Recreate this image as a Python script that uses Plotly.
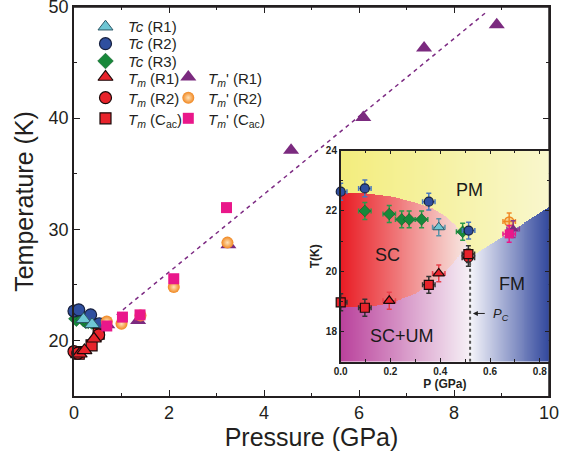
import numpy as np
import plotly.graph_objects as go

FONT = "Liberation Sans, Arial, Helvetica, sans-serif"
INK = "#231f20"

# ---------------- main panel data: pressure (GPa), temperature (K) ----------------
tc_r1_p = [0.20, 0.38]
tc_r1_t = [21.9, 21.45]
tc_r2_p = [0.0, 0.10, 0.35, 0.53]
tc_r2_t = [22.65, 22.75, 22.3, 21.5]
tc_r3_p = [0.05, 0.20, 0.25, 0.30, 0.37, 0.50]
tc_r3_t = [21.95, 21.9, 21.75, 21.75, 21.7, 21.3]
tm_r1_p = [0.12, 0.22, 0.42]
tm_r1_t = [18.8, 19.1, 20.15]
tm_r2_p = [0.0, 0.08, 0.52]
tm_r2_t = [19.0, 18.85, 20.5]
tm_cac_p = [0.05, 0.10, 0.37, 0.52]
tm_cac_t = [18.95, 18.8, 19.55, 20.6]
tmp_r1_p = [0.70, 1.35, 3.25, 4.57, 6.09, 7.37, 8.90]
tmp_r1_t = [21.4, 21.8, 28.6, 37.1, 40.05, 46.3, 48.4]
tmp_r2_p = [0.69, 1.00, 1.40, 2.10, 3.23]
tmp_r2_t = [21.7, 21.5, 22.25, 24.8, 28.8]
tmp_cac_p = [0.69, 1.02, 1.39, 2.10, 3.21]
tmp_cac_t = [21.3, 22.1, 22.3, 25.55, 31.95]
fit_p = [0.90, 8.67]
fit_t = [22.3, 49.5]

# ---------------- inset data ----------------
in_tc_r1_p = [0.394]
in_tc_r1_t = [21.46]
in_tc_r2_p = [0.0, 0.097, 0.354, 0.514]
in_tc_r2_t = [22.64, 22.75, 22.31, 21.35]
in_tc_r3_p = [0.097, 0.195, 0.245, 0.275, 0.325, 0.49]
in_tc_r3_t = [22.0, 21.9, 21.72, 21.72, 21.72, 21.31]
in_tm_r1_p = [0.195, 0.394]
in_tm_r1_t = [19.02, 19.93]
in_tm_r2_p = [0.513]
in_tm_r2_t = [20.45]
in_tm_cac_p = [0.0, 0.097, 0.354, 0.513]
in_tm_cac_t = [18.97, 18.79, 19.55, 20.57]
in_tmp_r1_p = [0.693]
in_tmp_r1_t = [21.4]
in_tmp_r2_p = [0.677]
in_tmp_r2_t = [21.65]
in_tmp_cac_p = [0.677]
in_tmp_cac_t = [21.24]
ERR_P = 0.025
ERR_T = 0.28

# phase boundaries of the inset diagram
sc_up_p = [0.0, 0.10, 0.20, 0.30, 0.37, 0.42, 0.46, 0.49, 0.505]
sc_up_t = [22.6, 22.6, 22.5, 22.3, 22.1, 21.85, 21.55, 21.2, 20.95]
sc_lo_p = [0.0, 0.10, 0.20, 0.30, 0.40, 0.45, 0.48, 0.505]
sc_lo_t = [18.8, 18.8, 18.95, 19.25, 19.8, 20.25, 20.6, 20.95]
fm_line_p = [0.52, 0.837]
fm_line_t = [20.5, 22.15]
PC_GPA = 0.52

# tick values
x_major = [0, 2, 4, 6, 8, 10]
x_minor = [1, 3, 5, 7, 9]
y_major = [20, 30, 40, 50]
y_minor = [25, 35, 45]

# labels
legend_labels = [
    "<i>Tc</i> (R1)", "<i>Tc</i> (R2)", "<i>Tc</i> (R3)",
    "<i>T<sub>m</sub></i> (R1)", "<i>T<sub>m</sub></i> (R2)", "<i>T<sub>m</sub></i> (C<sub>ac</sub>)",
    "<i>T<sub>m</sub></i>' (R1)", "<i>T<sub>m</sub></i>' (R2)", "<i>T<sub>m</sub></i>' (C<sub>ac</sub>)",
]

# ---------------- styles ----------------
S = {
    "tc_r1": dict(symbol="triangle-up", color="#6ec6d4", line=dict(color="#2d5866", width=1)),
    "tc_r2": dict(symbol="circle", color="#2f4f9f", line=dict(color="#17203f", width=1.2)),
    "tc_r3": dict(symbol="diamond", color="#17883a", line=dict(color="#0e5a26", width=0.6)),
    "tm_r1": dict(symbol="triangle-up", color="#e8232b", line=dict(color="#1a0a0a", width=1.2)),
    "tm_r2": dict(symbol="circle", color="#e8232b", line=dict(color="#1a0a0a", width=1.2)),
    "tm_cac": dict(symbol="square", color="#e8232b", line=dict(color="#1a0a0a", width=1.2)),
    "tmp_r1": dict(symbol="triangle-up", color="#7b2a7f", line=dict(width=0)),
    "tmp_r2": dict(symbol="circle", color="#f0861f", line=dict(width=0),
                   gradient=dict(type="radial", color="#ffe2b8")),
    "tmp_cac": dict(symbol="square", color="#e9178a", line=dict(width=0)),
}
SIZE_MAIN = {"tc_r1": 13, "tc_r2": 12, "tc_r3": 12, "tm_r1": 13, "tm_r2": 12, "tm_cac": 11,
             "tmp_r1": 14, "tmp_r2": 12, "tmp_cac": 11}
ERRC = {"tc_r1": "#5b93a8", "tc_r2": "#4a78bd", "tc_r3": "#2a9a4a", "tm_r1": "#e8404a",
        "tm_r2": "#333333", "tm_cac": "#333333", "tmp_r1": "#8a3a90", "tmp_r2": "#f08a2a",
        "tmp_cac": "#e9178a"}

# main axes geometry (pixels) used to place the hand-drawn legend
X_RANGE, Y_RANGE = [0, 10], [15, 50]
PLOT_L, PLOT_R, PLOT_T, PLOT_B = 74, 549, 7, 396


def px_to_p(px):
    return X_RANGE[0] + (px - PLOT_L) / (PLOT_R - PLOT_L) * (X_RANGE[1] - X_RANGE[0])


def py_to_t(py):
    return Y_RANGE[1] - (py - PLOT_T) / (PLOT_B - PLOT_T) * (Y_RANGE[1] - Y_RANGE[0])


fig = go.Figure()

# ---------------- inset background (phase diagram) ----------------
P_MAX_IN, T_MIN_IN, T_MAX_IN = 0.837, 17.0, 24.0
nx, ny = 210, 212
pg = (np.arange(nx) + 0.5) / nx * P_MAX_IN
tg = T_MIN_IN + (np.arange(ny) + 0.5) / ny * (T_MAX_IN - T_MIN_IN)
PP, TT = np.meshgrid(pg, tg)
pm_p = sc_up_p + fm_line_p
pm_t = sc_up_t + fm_line_t
B = np.interp(PP, pm_p, pm_t)
U = np.interp(PP, sc_up_p, sc_up_t)
L = np.interp(PP, sc_lo_p, sc_lo_t)
pm = TT >= B
left = PP < PC_GPA
sc = left & ~pm & (TT >= L) & (TT <= U) & (PP <= sc_up_p[-1])
um = left & ~pm & ~sc
fmr = ~left & ~pm


def lerp(c0, c1, t):
    c0 = np.array(c0, float)
    c1 = np.array(c1, float)
    return c0 + (c1 - c0) * np.clip(t, 0, 1)[..., None]


img = np.zeros(PP.shape + (3,))
img[pm] = lerp([243, 237, 125], [249, 247, 205], PP / P_MAX_IN)[pm]
img[sc] = lerp([233, 28, 36], [247, 230, 224], PP / 0.5)[sc]
img[um] = lerp([186, 66, 156], [246, 241, 246], PP / PC_GPA)[um]
img[fmr] = lerp([244, 244, 250], [50, 72, 157], (PP - PC_GPA) / (P_MAX_IN - PC_GPA))[fmr]
img = np.round(img).astype(int)

fig.add_trace(go.Image(z=img.tolist(), colormodel="rgb", x0=pg[0], dx=P_MAX_IN / nx,
                       y0=tg[0], dy=(T_MAX_IN - T_MIN_IN) / ny, xaxis="x2", yaxis="y2",
                       hoverinfo="skip"))

# ---------------- main frame (top and right edges) ----------------
fig.add_trace(go.Scatter(x=[X_RANGE[0], X_RANGE[1], X_RANGE[1]], y=[Y_RANGE[1], Y_RANGE[1], Y_RANGE[0]],
                         mode="lines", line=dict(color=INK, width=1.5), cliponaxis=False,
                         hoverinfo="skip"))

# ---------------- main traces ----------------
main_order = [
    ("tc_r3", tc_r3_p, tc_r3_t), ("tc_r2", tc_r2_p, tc_r2_t), ("tc_r1", tc_r1_p, tc_r1_t),
    ("tm_cac", tm_cac_p, tm_cac_t), ("tm_r2", tm_r2_p, tm_r2_t), ("tm_r1", tm_r1_p, tm_r1_t),
    ("tmp_r1", tmp_r1_p, tmp_r1_t), ("tmp_r2", tmp_r2_p, tmp_r2_t), ("tmp_cac", tmp_cac_p, tmp_cac_t),
]
fig.add_trace(go.Scatter(x=fit_p, y=fit_t, mode="lines",
                         line=dict(color="#7d2b83", width=1.5, dash="4px,4px"),
                         hoverinfo="skip", cliponaxis=False))
for key, px_, pt_ in main_order:
    fig.add_trace(go.Scatter(x=px_, y=pt_, mode="markers", cliponaxis=False,
                             marker=dict(size=SIZE_MAIN[key], **S[key])))

# ---------------- manual legend ----------------
LEG_ROWS = [26.7, 43.7, 61.0, 77.0, 97.7, 118.3]
COL1_M, COL1_T = 105.5, 126
COL2_M, COL2_T = 188.3, 206
leg_keys_1 = ["tc_r1", "tc_r2", "tc_r3", "tm_r1", "tm_r2", "tm_cac"]
leg_keys_2 = ["tmp_r1", "tmp_r2", "tmp_cac"]
leg_items = [(k, COL1_M, COL1_T, LEG_ROWS[i], legend_labels[i]) for i, k in enumerate(leg_keys_1)]
leg_items += [(k, COL2_M, COL2_T, LEG_ROWS[3 + j], legend_labels[6 + j]) for j, k in enumerate(leg_keys_2)]
for key, mx, tx, ry, lab in leg_items:
    fig.add_trace(go.Scatter(x=[px_to_p(mx)], y=[py_to_t(ry)], mode="markers", cliponaxis=False,
                             marker=dict(size=SIZE_MAIN[key], **S[key]), hoverinfo="skip"))
    fig.add_annotation(x=px_to_p(tx), y=py_to_t(ry + (2 if "sub" in lab else 0)),
                       text=lab, showarrow=False, xanchor="left", yanchor="middle",
                       font=dict(size=15, color=INK))

# ---------------- inset traces ----------------
inset_order = [
    ("tc_r3", in_tc_r3_p, in_tc_r3_t), ("tc_r2", in_tc_r2_p, in_tc_r2_t), ("tc_r1", in_tc_r1_p, in_tc_r1_t),
    ("tm_r2", in_tm_r2_p, in_tm_r2_t), ("tm_cac", in_tm_cac_p, in_tm_cac_t), ("tm_r1", in_tm_r1_p, in_tm_r1_t),
    ("tmp_r2", in_tmp_r2_p, in_tmp_r2_t), ("tmp_r1", in_tmp_r1_p, in_tmp_r1_t), ("tmp_cac", in_tmp_cac_p, in_tmp_cac_t),
]
for key, px_, pt_ in inset_order:
    mk = dict(S[key])
    if key == "tmp_r2":
        mk = dict(symbol="circle", color="rgba(240,134,31,0.35)", line=dict(color="#f0861f", width=1.5))
    fig.add_trace(go.Scatter(
        x=px_, y=pt_, mode="markers", xaxis="x2", yaxis="y2", cliponaxis=False,
        marker=dict(size=9 if mk["symbol"] != "triangle-up" else 10, **mk),
        error_x=dict(type="constant", value=ERR_P, color=ERRC[key], thickness=1.5, width=2.5),
        error_y=dict(type="constant", value=ERR_T, color=ERRC[key], thickness=1.5, width=2.5)))

# Pc dotted line
fig.add_shape(type="line", xref="x2", yref="y2", x0=PC_GPA, x1=PC_GPA, y0=T_MIN_IN, y1=20.35,
              line=dict(color="#555555", width=2, dash="dot"))

# ---------------- inset region labels ----------------
for txt, xx, yy in [("PM", 0.517, 22.7), ("SC", 0.187, 20.54), ("FM", 0.69, 19.58), ("SC+UM", 0.248, 17.85)]:
    fig.add_annotation(x=xx, y=yy, xref="x2", yref="y2", text=txt, showarrow=False,
                       font=dict(size=18, color="#1a1a1a"))
fig.add_annotation(x=0.531, y=18.6, ax=0.585, ay=18.6, xref="x2", yref="y2", axref="x2", ayref="y2",
                   text="", showarrow=True, arrowhead=2, arrowsize=1, arrowwidth=1, arrowcolor="#222")
fig.add_annotation(x=0.605, y=18.55, xref="x2", yref="y2", text="<i>P<sub>C</sub></i>", showarrow=False,
                   xanchor="left", yanchor="middle", font=dict(size=13, color="#222"))

axis_common = dict(showline=True, linecolor=INK, mirror="ticks", showgrid=False, zeroline=False,
                   ticks="inside", tickcolor=INK, automargin=False, ticklabeloverflow="allow")
tick_only = dict(showline=False, showgrid=False, zeroline=False, ticks="inside", tickcolor=INK,
                 showticklabels=False, automargin=False)

fig.update_layout(
    width=577, height=453, margin=dict(l=74, r=28, t=7, b=57, autoexpand=False),
    paper_bgcolor="white", plot_bgcolor="rgba(0,0,0,0)", showlegend=False,
    font=dict(family=FONT, color=INK),
    xaxis=dict(domain=[0, 1], anchor="y", range=X_RANGE, tickvals=x_major,
               ticklen=6, tickwidth=1.3, linewidth=1.5,
               minor=dict(tickvals=x_minor, ticks="inside", ticklen=3.5, tickwidth=1.3, tickcolor=INK),
               tickfont=dict(size=18), title=dict(text="Pressure (GPa)", font=dict(size=25), standoff=2),
               **axis_common),
    yaxis=dict(domain=[0, 1], anchor="x", range=Y_RANGE, tickvals=y_major,
               ticklen=6, tickwidth=1.3, linewidth=1.5,
               minor=dict(tickvals=y_minor, ticks="inside", ticklen=3.5, tickwidth=1.3, tickcolor=INK),
               tickfont=dict(size=18), title=dict(text="Temperature (K)", font=dict(size=25), standoff=8),
               **axis_common),
    xaxis3=dict(overlaying="x", anchor="y", side="top", range=X_RANGE, tickvals=x_major,
                ticklen=6, tickwidth=1.3,
                minor=dict(tickvals=x_minor, ticks="inside", ticklen=3.5, tickwidth=1.3, tickcolor=INK),
                **tick_only),
    yaxis3=dict(overlaying="y", anchor="x", side="right", range=Y_RANGE, tickvals=y_major,
                ticklen=6, tickwidth=1.3,
                minor=dict(tickvals=y_minor, ticks="inside", ticklen=3.5, tickwidth=1.3, tickcolor=INK),
                **tick_only),
    xaxis2=dict(domain=[0.5615, 1.0], anchor="y2", range=[0, P_MAX_IN], tickvals=[0, 0.2, 0.4, 0.6, 0.8],
                tickformat=".1f", ticklen=4, tickwidth=1, linewidth=1.5,
                minor=dict(tickvals=[0.1, 0.3, 0.5, 0.7], ticks="inside", ticklen=2.5, tickwidth=1, tickcolor=INK),
                tickfont=dict(size=10, weight="bold"),
                title=dict(text="P (GPa)", font=dict(size=12, weight="bold"), standoff=2),
                **axis_common),
    yaxis2=dict(domain=[0.0882, 0.6306], anchor="x2", range=[T_MIN_IN, T_MAX_IN], autorange=False,
                scaleanchor=False, tickvals=[18, 20, 22, 24], ticklen=4, tickwidth=1, linewidth=1.5,
                minor=dict(tickvals=[19, 21, 23], ticks="inside", ticklen=2.5, tickwidth=1, tickcolor=INK),
                tickfont=dict(size=10, weight="bold"),
                title=dict(text="T(K)", font=dict(size=12, weight="bold"), standoff=4),
                **axis_common),
)

fig.write_html("out.html", config={"displayModeBar": False},
               post_script="document.body.style.margin='0px';document.body.style.overflow='hidden';")
